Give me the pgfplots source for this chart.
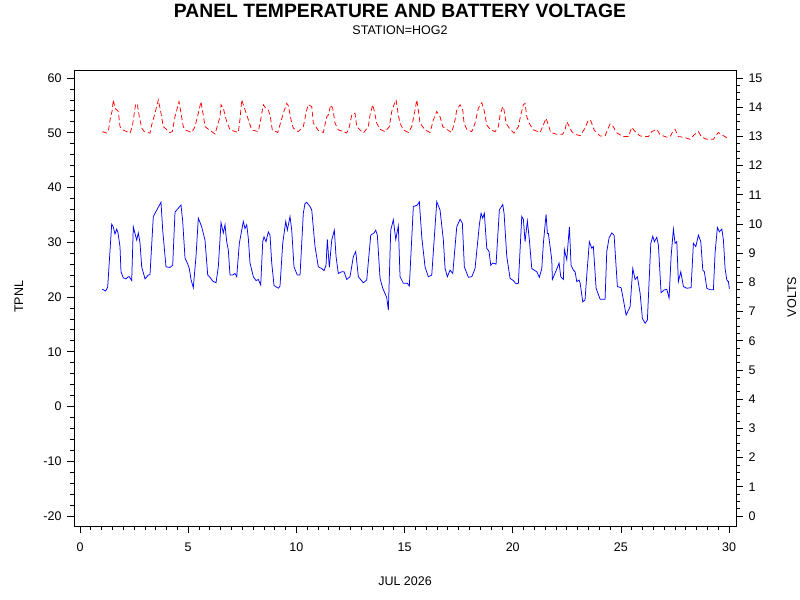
\documentclass[border=0pt]{standalone}
\usepackage{fontspec}
\setmainfont{Liberation Sans}
\usepackage{pgfplots}
\pgfplotsset{compat=1.18}
\begin{document}
\begin{tikzpicture}
\path[use as bounding box] (0,0) rectangle (800bp,600bp);
\pgfplotsset{
  every axis/.append style={
    at={(74bp,74bp)}, anchor=south west,
    width=662bp, height=456bp, scale only axis,
    xmin=-0.277, xmax=30.32,
    tick align=outside,
    major tick length=7bp, minor tick length=4bp,
    every tick/.style={black, line width=0.75bp},
    axis line style={line width=0.75bp},
    ticklabel style={font=\fontsize{12.5bp}{14bp}\selectfont},
    /pgf/number format/assume math mode=true,
  }
}
\begin{axis}[
  ymin=-21.83, ymax=61.46,
  xtick={0,5,...,30}, minor x tick num=9,
  ytick={-20,-10,...,60}, minor y tick num=4,
  xtick pos=bottom, ytick pos=left,
  xticklabel style={yshift=-6bp},
  yticklabel style={xshift=-2bp},
]
\addplot[blue, line width=0.75bp] coordinates {
(1.031,21.4)(1.188,21.1)(1.280,21.8)(1.465,33.3)(1.539,32.8)(1.618,31.5)(1.697,32.4)(1.757,31.7)(1.849,29.2)(1.895,24.6)
(2.002,23.5)(2.126,23.3)(2.233,23.7)(2.279,23.7)(2.390,23.0)(2.464,32.8)(2.621,30.4)(2.695,31.7)(2.774,29.9)(2.852,25.5)
(3.005,23.3)(3.157,24.0)(3.236,24.1)(3.388,34.7)(3.744,37.3)(3.823,32.2)(3.975,25.5)(4.160,25.4)(4.285,25.8)(4.391,35.5)
(4.669,36.8)(4.747,33.8)(4.854,27.1)(4.960,26.2)(5.053,25.2)(5.131,23.2)(5.237,21.7)(5.362,27.4)(5.469,34.4)(5.626,32.8)
(5.700,31.6)(5.778,30.4)(5.903,24.0)(6.009,23.6)(6.134,22.9)(6.287,22.6)(6.393,25.5)(6.518,33.6)(6.624,31.7)(6.703,33.2)
(6.781,30.1)(6.855,28.6)(6.934,24.0)(7.059,24.0)(7.165,24.3)(7.244,23.7)(7.364,29.8)(7.549,33.8)(7.627,32.5)(7.706,33.2)
(7.780,30.7)(7.858,26.2)(8.011,23.7)(8.136,23.0)(8.242,23.2)(8.353,22.2)(8.446,30.1)(8.506,31.0)(8.598,30.1)(8.704,31.9)
(8.783,31.3)(8.862,26.2)(8.968,22.1)(9.167,21.6)(9.245,22.0)(9.370,29.8)(9.509,33.8)(9.583,32.2)(9.707,34.7)(9.786,32.2)
(9.892,25.5)(10.045,24.0)(10.170,24.0)(10.322,35.3)(10.401,37.1)(10.479,37.3)(10.632,36.5)(10.711,35.9)(10.863,29.2)(11.016,25.5)
(11.173,25.2)(11.279,24.8)(11.372,25.8)(11.432,30.5)(11.524,25.4)(11.635,30.4)(11.755,32.2)(11.834,27.4)(11.940,24.3)(12.097,24.6)
(12.204,24.6)(12.329,23.2)(12.481,23.7)(12.634,27.4)(12.745,28.3)(12.865,23.7)(13.096,22.6)(13.253,23.1)(13.438,31.3)(13.591,31.7)
(13.669,32.2)(13.743,31.3)(13.868,23.4)(13.993,21.6)(14.177,19.9)(14.252,17.6)(14.362,32.2)(14.483,34.1)(14.594,30.5)(14.714,33.0)
(14.792,23.7)(14.945,22.5)(15.130,22.5)(15.222,22.0)(15.407,36.5)(15.592,36.8)(15.685,37.4)(15.795,31.0)(15.948,25.5)(16.100,23.7)
(16.258,24.0)(16.489,37.4)(16.641,35.9)(16.794,30.4)(16.873,25.2)(16.979,23.7)(17.104,24.9)(17.229,24.3)(17.413,32.8)(17.566,34.2)
(17.672,33.5)(17.765,25.5)(17.950,23.6)(18.107,23.7)(18.259,25.2)(18.458,33.2)(18.537,35.3)(18.615,34.4)(18.689,35.3)(18.800,28.9)
(18.906,28.3)(18.985,25.8)(19.078,26.2)(19.230,26.0)(19.383,35.9)(19.540,36.9)(19.600,35.3)(19.725,27.4)(19.877,23.4)(20.030,23.0)
(20.155,22.4)(20.261,22.5)(20.418,34.7)(20.492,34.2)(20.571,30.1)(20.677,33.9)(20.770,30.4)(20.880,25.2)(21.033,24.8)(21.112,24.6)
(21.232,23.6)(21.343,25.2)(21.417,29.8)(21.541,35.1)(21.602,31.6)(21.648,31.6)(21.805,26.8)(21.833,23.2)(22.036,25.1)(22.142,26.2)
(22.221,23.7)(22.341,23.2)(22.387,28.7)(22.498,26.8)(22.619,32.8)(22.697,25.8)(22.804,24.9)(22.882,24.6)(22.961,22.8)(23.067,23.1)
(23.113,22.6)(23.238,19.1)(23.344,19.5)(23.423,24.0)(23.543,30.1)(23.654,28.9)(23.728,29.2)(23.853,21.6)(24.038,19.6)(24.269,19.6)
(24.347,28.3)(24.454,30.8)(24.579,31.7)(24.685,31.3)(24.838,21.9)(25.009,21.7)(25.115,19.5)(25.240,16.7)(25.425,18.2)(25.549,25.2)
(25.656,23.2)(25.762,23.7)(25.887,20.7)(25.993,16.1)(26.118,15.2)(26.224,15.8)(26.382,29.8)(26.474,31.1)(26.548,30.1)(26.659,30.9)
(26.733,29.5)(26.857,20.8)(27.010,21.3)(27.121,21.4)(27.227,19.8)(27.320,27.4)(27.426,32.4)(27.504,29.8)(27.583,30.1)(27.657,22.8)
(27.768,24.6)(27.889,21.9)(28.045,21.6)(28.244,21.7)(28.351,29.8)(28.462,29.2)(28.582,31.3)(28.693,30.1)(28.785,24.9)(28.859,24.6)
(28.970,21.6)(29.123,21.3)(29.275,21.3)(29.354,28.1)(29.460,32.7)(29.553,31.9)(29.664,32.4)(29.738,30.4)(29.816,25.2)(29.895,23.1)
(29.969,22.8)(30.015,21.5)
};
\end{axis}
\begin{axis}[
  ymin=-0.342, ymax=15.27,
  axis y line*=right, axis x line=none,
  ytick={0,1,...,15}, minor y tick num=3,
  yticklabel style={xshift=2bp},
]
\addplot[red, line width=0.75bp, dash pattern=on 5bp off 3bp] coordinates {
(1.031,13.16)(1.234,13.11)(1.308,13.16)(1.387,13.56)(1.493,13.90)(1.539,14.25)(1.618,13.96)(1.770,13.85)(1.849,13.33)(1.928,13.24)
(2.159,13.16)(2.311,13.11)(2.418,13.33)(2.510,13.79)(2.575,14.11)(2.649,14.11)(2.727,13.73)(2.852,13.28)(2.972,13.16)(3.236,13.11)
(3.314,13.39)(3.467,13.79)(3.620,14.25)(3.744,13.79)(3.851,13.33)(4.160,13.13)(4.267,13.16)(4.391,13.67)(4.576,14.19)(4.669,13.79)
(4.775,13.33)(4.854,13.22)(5.163,13.13)(5.316,13.33)(5.469,13.79)(5.593,14.19)(5.654,13.90)(5.700,13.73)(5.778,13.33)(6.088,13.16)
(6.241,13.08)(6.472,13.67)(6.518,14.08)(6.624,13.96)(6.781,13.50)(6.934,13.22)(7.318,13.13)(7.397,13.60)(7.475,14.25)(7.549,14.08)
(7.706,13.73)(7.812,13.50)(7.937,13.22)(8.242,13.16)(8.321,13.45)(8.473,14.08)(8.584,13.96)(8.704,13.90)(8.783,13.73)(8.889,13.22)
(9.139,13.13)(9.398,13.79)(9.555,14.13)(9.629,14.05)(9.786,13.45)(9.860,13.28)(10.091,13.16)(10.322,13.33)(10.479,13.90)(10.554,14.08)
(10.711,14.02)(10.785,13.45)(11.016,13.20)(11.247,13.13)(11.404,13.67)(11.478,13.73)(11.589,14.08)(11.681,13.96)(11.788,13.45)(11.940,13.22)
(12.171,13.16)(12.329,13.11)(12.449,13.33)(12.560,13.73)(12.712,13.79)(12.791,13.33)(12.943,13.22)(13.096,13.11)(13.327,13.33)(13.406,13.73)
(13.530,14.08)(13.591,13.90)(13.715,13.45)(13.868,13.24)(14.099,13.16)(14.298,13.33)(14.409,13.85)(14.515,14.08)(14.608,14.25)(14.714,13.73)
(14.792,13.45)(14.945,13.22)(15.176,13.13)(15.333,13.33)(15.486,13.90)(15.564,14.25)(15.638,13.90)(15.717,13.45)(15.948,13.22)(16.179,13.13)
(16.332,13.56)(16.489,13.85)(16.641,13.67)(16.766,13.33)(17.025,13.20)(17.182,13.13)(17.335,13.56)(17.413,13.90)(17.566,14.08)(17.691,13.90)
(17.751,13.45)(17.876,13.24)(18.107,13.16)(18.259,13.45)(18.412,13.96)(18.569,14.15)(18.675,13.90)(18.800,13.39)(18.953,13.24)(19.184,13.16)
(19.337,13.33)(19.415,13.73)(19.540,14.02)(19.600,13.90)(19.692,13.45)(19.877,13.24)(20.062,13.11)(20.261,13.33)(20.372,13.73)(20.492,14.08)
(20.571,14.13)(20.649,13.67)(20.802,13.39)(20.955,13.22)(21.264,13.13)(21.417,13.39)(21.541,13.62)(21.648,13.39)(21.759,13.13)(22.036,13.07)
(22.313,13.07)(22.420,13.22)(22.498,13.50)(22.619,13.33)(22.730,13.16)(22.882,13.07)(23.113,13.02)(23.344,13.28)(23.497,13.56)(23.608,13.53)
(23.761,13.22)(24.038,13.01)(24.269,13.01)(24.375,13.22)(24.500,13.42)(24.653,13.33)(24.777,13.13)(25.115,12.99)(25.346,12.99)(25.503,13.31)
(25.656,13.16)(25.887,13.01)(26.270,12.99)(26.428,13.16)(26.659,13.24)(26.811,13.05)(27.121,12.97)(27.274,12.99)(27.398,13.16)(27.504,13.24)
(27.657,12.99)(27.889,12.97)(28.198,12.90)(28.383,13.05)(28.582,13.16)(28.739,12.97)(28.970,12.90)(29.275,12.90)(29.505,13.13)(29.664,13.05)
(29.816,12.99)(29.969,12.90)
};
\end{axis}
\node[font=\fontsize{19.3bp}{22bp}\selectfont\bfseries, anchor=base] at (400bp,582bp) {PANEL TEMPERATURE AND BATTERY VOLTAGE};
\node[font=\fontsize{12.5bp}{14bp}\selectfont, anchor=base] at (400bp,565bp) {STATION=HOG2};
\node[font=\fontsize{12.5bp}{14bp}\selectfont, anchor=base] at (405bp,15bp) {JUL 2026};
\node[font=\fontsize{12.5bp}{14bp}\selectfont, rotate=90, anchor=base] at (23bp,303bp) {TPNL};
\node[font=\fontsize{12.5bp}{14bp}\selectfont, rotate=90, anchor=base] at (796bp,303bp) {VOLTS};
\end{tikzpicture}
\end{document}
